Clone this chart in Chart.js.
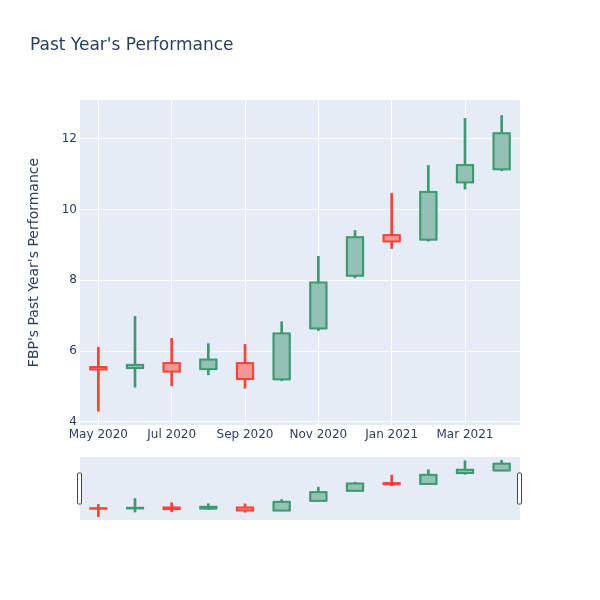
<!DOCTYPE html>
<html>
<head>
<meta charset="utf-8">
<script src="https://cdn.jsdelivr.net/npm/chart.js@4"></script>
<style>
  body { margin: 0; background: #fff; }
  #wrap { position: relative; width: 600px; height: 600px; }
  #title { position: absolute; left: 30px; top: 34px; font: 17px "DejaVu Sans", sans-serif; color: #2a3f5f; line-height: 20px; }
  #main { position: absolute; left: 0; top: 0; }
  #slider { position: absolute; left: 0; top: 450px; }
</style>
</head>
<body>
<div id="wrap">
  <canvas id="main" width="600" height="450"></canvas>
  <canvas id="slider" width="600" height="80"></canvas>
  <div id="title">Past Year's Performance</div>
</div>
<script>
// monthly candles, FBP
var months = ['May 2020', 'Jun 2020', 'Jul 2020', 'Aug 2020', 'Sep 2020', 'Oct 2020',
              'Nov 2020', 'Dec 2020', 'Jan 2021', 'Feb 2021', 'Mar 2021', 'Apr 2021'];
var openVals  = [5.55, 5.52, 5.66, 5.49, 5.66, 5.20, 6.64, 8.13, 9.28, 9.15, 10.77, 11.14];
var highVals  = [6.11, 6.98, 6.36, 6.21, 6.19, 6.83, 8.68, 9.41, 10.46, 11.25, 12.58, 12.66];
var lowVals   = [4.30, 4.98, 5.02, 5.33, 4.95, 5.16, 6.58, 8.07, 8.90, 9.11, 10.58, 11.10];
var closeVals = [5.48, 5.61, 5.42, 5.76, 5.21, 6.50, 7.94, 9.22, 9.10, 10.50, 11.26, 12.16];
var xTickLabels = ['May 2020', 'Jul 2020', 'Sep 2020', 'Nov 2020', 'Jan 2021', 'Mar 2021'];
var yTicks = [4, 6, 8, 10, 12];

var upLine = '#3D9970', downLine = '#FF4136';
var upFill = '#91C2B3', downFill = '#F29696';   // 50% fill over the plot bg
var plotBg = '#E5ECF6';

Chart.defaults.font.family = '"DejaVu Sans", sans-serif';
Chart.defaults.color = '#2a3f5f';

function isUp(i) { return closeVals[i] >= openVals[i]; }

function candleSets() {
  return [
    {
      data: months.map((m, i) => [openVals[i], closeVals[i]]),
      backgroundColor: months.map((m, i) => isUp(i) ? upFill : downFill),
      borderWidth: 0,
      barThickness: 18
    },
    {
      data: months.map((m, i) => [lowVals[i], highVals[i]]),
      backgroundColor: months.map((m, i) => isUp(i) ? upLine : downLine),
      borderWidth: 0,
      barThickness: 2
    }
  ];
}

var bgPlugin = {
  id: 'bg',
  beforeDraw(chart) {
    var a = chart.chartArea, c = chart.ctx;
    c.save();
    c.fillStyle = plotBg;
    c.fillRect(a.left, a.top, a.right - a.left, a.bottom - a.top);
    c.restore();
  }
};

// box outline like plotly: stroke centred on the edge, not clipped for flat bodies
var outlinePlugin = {
  id: 'outline',
  afterDatasetsDraw(chart) {
    var c = chart.ctx;
    var meta = chart.getDatasetMeta(0);
    c.save();
    c.lineWidth = 2;
    meta.data.forEach(function (bar, i) {
      var p = bar.getProps(['x', 'y', 'base', 'width']);
      var top = Math.min(p.y, p.base), h = Math.abs(p.base - p.y);
      c.strokeStyle = isUp(i) ? upLine : downLine;
      c.strokeRect(p.x - p.width / 2 + 1, top, p.width - 2, h);
    });
    c.restore();
  }
};

new Chart(document.getElementById('main'), {
  type: 'bar',
  data: { labels: months, datasets: candleSets() },
  plugins: [bgPlugin, outlinePlugin],
  options: {
    responsive: false,
    animation: false,
    layout: { padding: { top: 100, right: 80, left: 0, bottom: 0 } },
    plugins: { legend: { display: false }, tooltip: { enabled: false } },
    datasets: { bar: { grouped: false } },
    scales: {
      x: {
        offset: true,
        grid: {
          offset: false,
          drawTicks: false,
          color: ctx => xTickLabels.indexOf(months[ctx.index]) >= 0 ? '#ffffff' : 'rgba(0,0,0,0)'
        },
        border: { display: false },
        ticks: {
          autoSkip: false, maxRotation: 0, padding: 3, font: { size: 12 },
          callback: (v, i) => xTickLabels.indexOf(months[i]) >= 0 ? months[i] : ''
        },
        afterFit(s) { s.height = 25; }
      },
      y: {
        min: 3.91, max: 13.1,
        grid: { color: '#ffffff', drawTicks: false },
        border: { display: false },
        ticks: { padding: 3, font: { size: 12 } },
        afterBuildTicks(s) { s.ticks = yTicks.map(v => ({ value: v })); },
        title: {
          display: true,
          text: "FBP's Past Year's Performance",
          font: { size: 14 },
          padding: { top: 26, bottom: 0 }
        },
        afterFit(s) { s.width = 80; }
      }
    }
  }
});

// range slider below the plot
var handlePlugin = {
  id: 'handles',
  afterDraw(chart) {
    var a = chart.chartArea, c = chart.ctx;
    var mid = (a.top + a.bottom) / 2;
    c.save();
    c.fillStyle = '#ffffff';
    c.strokeStyle = '#444444';
    c.lineWidth = 1;
    [a.left - 2, a.right - 2].forEach(function (x) {
      c.beginPath();
      c.roundRect(x - 0.5, mid - 15.5, 4, 31, 1);
      c.fill();
      c.stroke();
    });
    c.restore();
  }
};

new Chart(document.getElementById('slider'), {
  type: 'bar',
  data: { labels: months, datasets: candleSets() },
  plugins: [bgPlugin, outlinePlugin, handlePlugin],
  options: {
    responsive: false,
    animation: false,
    layout: { padding: { top: 7, right: 80, left: 80, bottom: 10 } },
    plugins: { legend: { display: false }, tooltip: { enabled: false } },
    datasets: { bar: { grouped: false } },
    scales: {
      x: { display: false, offset: true },
      y: { display: false, min: 3.8, max: 13.15 }
    }
  }
});
</script>
</body>
</html>
